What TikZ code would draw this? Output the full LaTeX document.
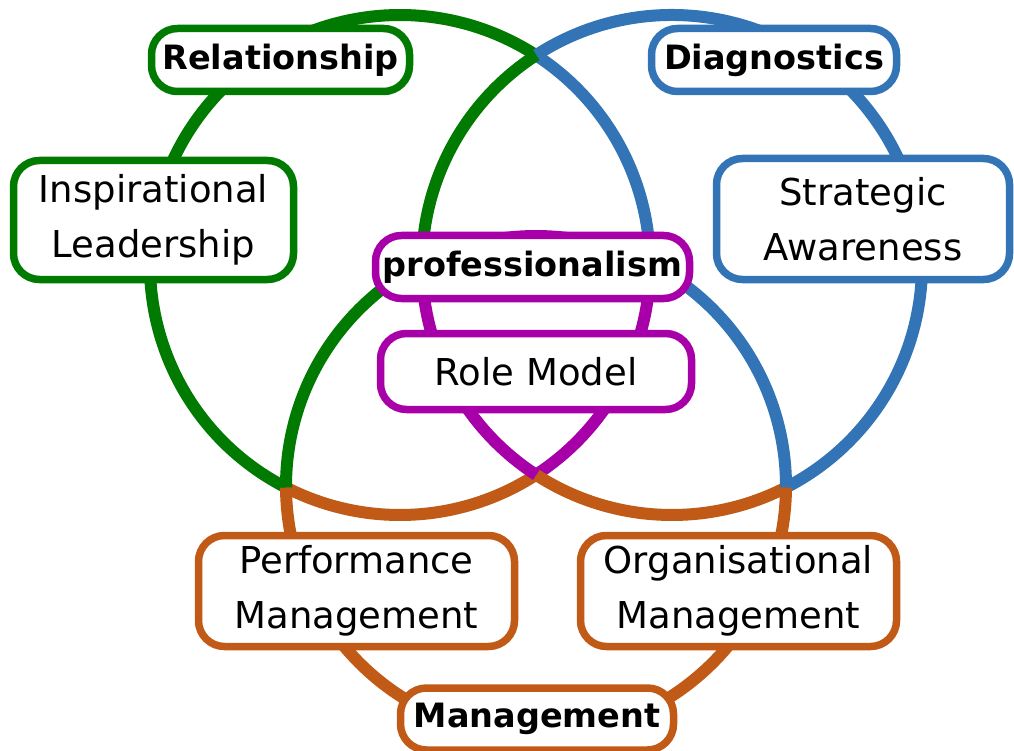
\documentclass[tikz,border=0pt]{standalone}
\usepackage{fontspec}
\setmainfont{DejaVu Sans}
\definecolor{ringgreen}{RGB}{0,122,0}
\definecolor{ringblue}{RGB}{50,116,182}
\definecolor{ringorange}{RGB}{192,90,22}
\definecolor{ringpurple}{RGB}{168,0,168}
% one coloured piece of a ring: centre, start angle, end angle, colour
\newcommand{\ringarc}[4]{\draw[ring,#4] ([shift={(#2:250)}]#1) arc[start angle=#2,end angle=#3,radius=250];}
\begin{document}
\begin{tikzpicture}[x=1pt,y=-1pt,
  ring/.style={line width=12pt},
  box/.style={draw, line width=7.5pt, fill=white, rounded corners=26pt,
    inner sep=0pt, align=center, text=black,
    font=\fontsize{37}{55}\selectfont},
  title/.style={box, font=\bfseries\fontsize{33.5}{40}\selectfont},
]
\useasboundingbox (0,0) rectangle (1014,751);
\coordinate (G) at (400,265);
\coordinate (B) at (672,265);
\coordinate (O) at (536,486);

% left ring
\ringarc{G}{117.15}{302.9}{ringgreen}
\ringarc{G}{-57.1}{-0.34}{ringblue}
\ringarc{G}{57.1}{117.15}{ringorange}
\ringarc{G}{-0.34}{57.1}{ringpurple}
% right ring
\ringarc{B}{237.1}{422.85}{ringblue}
\ringarc{B}{180.34}{237.1}{ringgreen}
\ringarc{B}{62.85}{122.9}{ringorange}
\ringarc{B}{122.9}{180.34}{ringpurple}
% lower ring
\ringarc{O}{0.34}{179.66}{ringorange}
\ringarc{O}{179.66}{242.85}{ringgreen}
\ringarc{O}{-62.85}{0.34}{ringblue}
\ringarc{O}{-117.15}{-62.85}{ringpurple}

% labels
\node[title, draw=ringgreen, minimum width=258pt, minimum height=63pt] (rel) at (280.5,60) {Relationship};
\node[box, draw=ringgreen, minimum width=280pt, minimum height=119pt] (insp) at (153.5,220) {Inspirational\\Leadership};
\node[title, draw=ringblue, minimum width=245pt, minimum height=63pt] (diag) at (774,60) {Diagnostics};
\node[box, draw=ringblue, minimum width=293pt, minimum height=121pt] (strat) at (863,219) {Strategic\\Awareness};
\node[title, draw=ringpurple, minimum width=314pt, minimum height=63pt] (prof) at (532.5,267) {professionalism};
\node[box, draw=ringpurple, minimum width=311pt, minimum height=76pt] (role) at (536,371.5) {Role Model};
\node[box, draw=ringorange, minimum width=316pt, minimum height=111pt] (perf) at (356.5,591) {Performance\\Management};
\node[box, draw=ringorange, minimum width=316pt, minimum height=111pt] (org) at (738.5,591) {Organisational\\Management};
\node[title, draw=ringorange, minimum width=273pt, minimum height=62pt] (mgmt) at (537,719) {Management};
\end{tikzpicture}
\end{document}
